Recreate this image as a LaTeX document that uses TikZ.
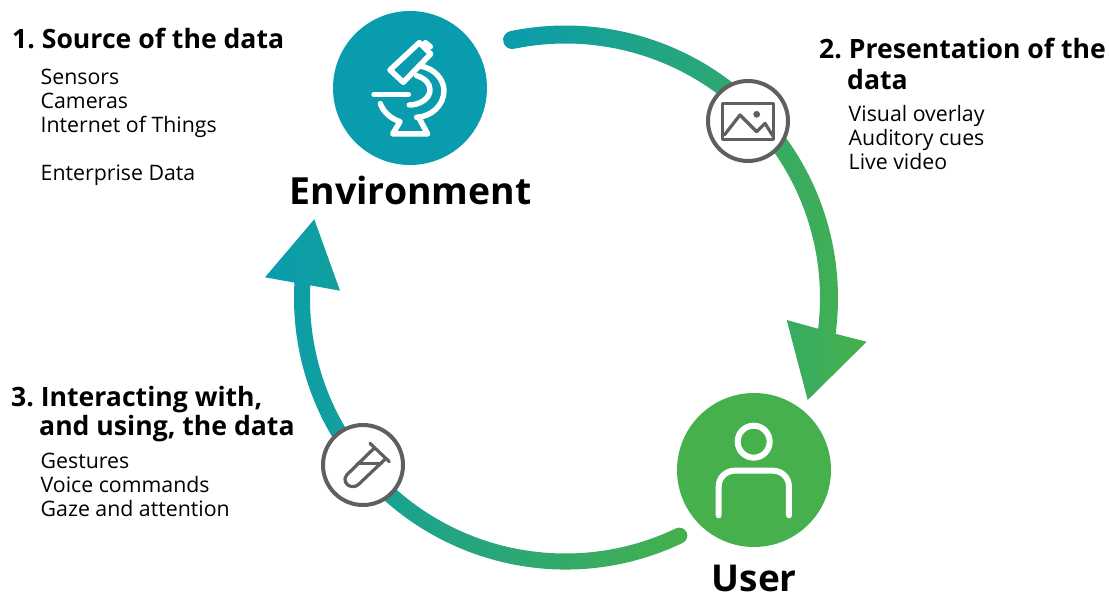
\documentclass[tikz,border=0pt]{standalone}
\usepackage{fontspec}
\setmainfont{Open Sans}
\frenchspacing
\definecolor{envc}{HTML}{089CAE}
\definecolor{userc}{HTML}{45B04C}
\definecolor{iconc}{HTML}{5F5F5F}
\tikzset{
  ringshade/.style={left color=envc,right color=userc,draw=none},
  bigdisc/.style={circle,minimum size=154pt,inner sep=0pt},
  iconring/.style={circle,draw=iconc,line width=4pt,fill=white,minimum size=80pt,inner sep=0pt},
  whitestroke/.style={draw=white,line width=5.5pt,line cap=round,line join=round},
  greystroke/.style={draw=iconc,line width=3.2pt,line cap=round,line join=round},
  heading/.style={font=\fontsize{26.6}{29}\selectfont\bfseries,anchor=base west,inner sep=0pt,align=left},
  bodytext/.style={font=\fontsize{21.3}{24}\selectfont,anchor=base west,inner sep=0pt,align=left},
  bigtitle/.style={font=\fontsize{37.4}{40}\selectfont\bfseries,anchor=base west,inner sep=0pt},
  usertitle/.style={font=\fontsize{37}{40}\selectfont\bfseries,anchor=base west,inner sep=0pt}
}
\begin{document}
\begin{tikzpicture}[x=1pt,y=-1pt]
\useasboundingbox (0,0) rectangle (1109,594);
\coordinate (ringc) at (565.5,298);
\coordinate (a1) at (786.7,320); \coordinate (a2) at (866.7,341.7); \coordinate (a3) at (807.7,400);
\coordinate (b1) at (314.3,219.3); \coordinate (b2) at (265,277.3); \coordinate (b3) at (340,290.7);
% ring arc and head, environment to user
\shade[ringshade] ([shift={(ringc)}]258.3:272.5) arc[start angle=258.3,end angle=367.57,radius=272.5]
  -- (a2) -- (a3) -- (a1)
  -- ([shift={(ringc)}]366.94:254.5) arc[start angle=366.94,end angle=258.3,radius=254.5]
  arc[start angle=78.3,end angle=258.3,radius=9] -- cycle;
% ring arc and head, user to environment
\shade[ringshade] ([shift={(ringc)}]64.4:271.5) arc[start angle=64.4,end angle=183.25,radius=271.5]
  -- (b2) -- (b1) -- (b3)
  -- ([shift={(ringc)}]182.85:255.5) arc[start angle=182.85,end angle=64.4,radius=255.5]
  arc[start angle=-115.6,end angle=64.4,radius=8] -- cycle;
% discs
\node[bigdisc,fill=envc] (env) at (410,88) {};
\node[bigdisc,fill=userc] (user) at (754,470) {};
\node[iconring] (imgc) at (748,121) {};
\node[iconring] (tubec) at (363,465) {};
% microscope
\begin{scope}[shift={(320,0)},x=0.3333pt,y=-0.3333pt]
  \draw[whitestroke] (298,128) -- (332,162) -- (250,247) -- (210,210) -- cycle;
  \draw[whitestroke] (316,128) -- (331,140);
  \draw[whitestroke] (162,283) -- (265,283);
  \draw[whitestroke] (300,198) .. controls (345,205) and (372,240) .. (372,272) .. controls (372,315) and (335,350) .. (290,352);
  \draw[whitestroke] (290,227) .. controls (315,235) and (330,250) .. (330,270) .. controls (330,295) and (300,315) .. (268,315);
  \draw[whitestroke] (181,311) .. controls (190,335) and (210,355) .. (240,365) -- (218,402) -- (323,402) -- (296,352);
\end{scope}
% picture icon
\begin{scope}[shift={(690,60)},x=0.3333pt,y=-0.3333pt]
  \draw[greystroke] (98,130) rectangle (250,238);
  \draw[greystroke] (103,225) -- (150,165) -- (200,215) -- (225,190) -- (250,230);
  \fill[iconc] (200,163) circle (3.4pt);
\end{scope}
% test tube icon
\begin{scope}[shift={(310,420)},x=0.3333pt,y=-0.3333pt]
  \draw[greystroke] (180,70) -- (238,125);
  \draw[greystroke] (192,85) -- (110,165) .. controls (98,178) and (108,198) .. (125,200) .. controls (135,201) and (142,197) .. (147,192) -- (225,118);
  \draw[greystroke] (142,130) -- (215,130);
\end{scope}
% person icon
\begin{scope}[shift={(660,380)},x=0.3333pt,y=-0.3333pt]
  \draw[whitestroke,line width=6pt] (281,185) circle (16pt);
  \draw[whitestroke,line width=6pt] (176,406) -- (176,320) .. controls (176,292) and (198,272) .. (225,272) -- (338,272) .. controls (365,272) and (387,292) .. (387,320) -- (387,406);
\end{scope}
% titles
\node[bigtitle] (envt) at (289.5,204) {Environment};
\node[usertitle] (usert) at (711.5,591.5) {User};
% headings
\node[heading] (h1) at (12,49) {1. Source of the data};
\node[heading] (h2a) at (819,59) {2. Presentation of the};
\node[heading] (h2b) at (847,89) {data};
\node[heading] (h3a) at (11,406.5) {3. Interacting with,};
\node[heading] (h3b) at (39,435) {and using, the data};
% body
\node[bodytext] (s1) at (40.5,84.5) {Sensors};
\node[bodytext] (s2) at (40.5,108.5) {Cameras};
\node[bodytext] (s3) at (40.5,132.5) {Internet of Things};
\node[bodytext] (s4) at (40.5,180.5) {Enterprise Data};
\node[bodytext] (p1) at (848.5,121.5) {Visual overlay};
\node[bodytext] (p2) at (848.5,145.5) {Auditory cues};
\node[bodytext] (p3) at (848.5,169.5) {Live video};
\node[bodytext] (g1) at (40.5,468.5) {Gestures};
\node[bodytext] (g2) at (40.5,492.5) {Voice commands};
\node[bodytext] (g3) at (40.5,516.5) {Gaze and attention};
\end{tikzpicture}
\end{document}
